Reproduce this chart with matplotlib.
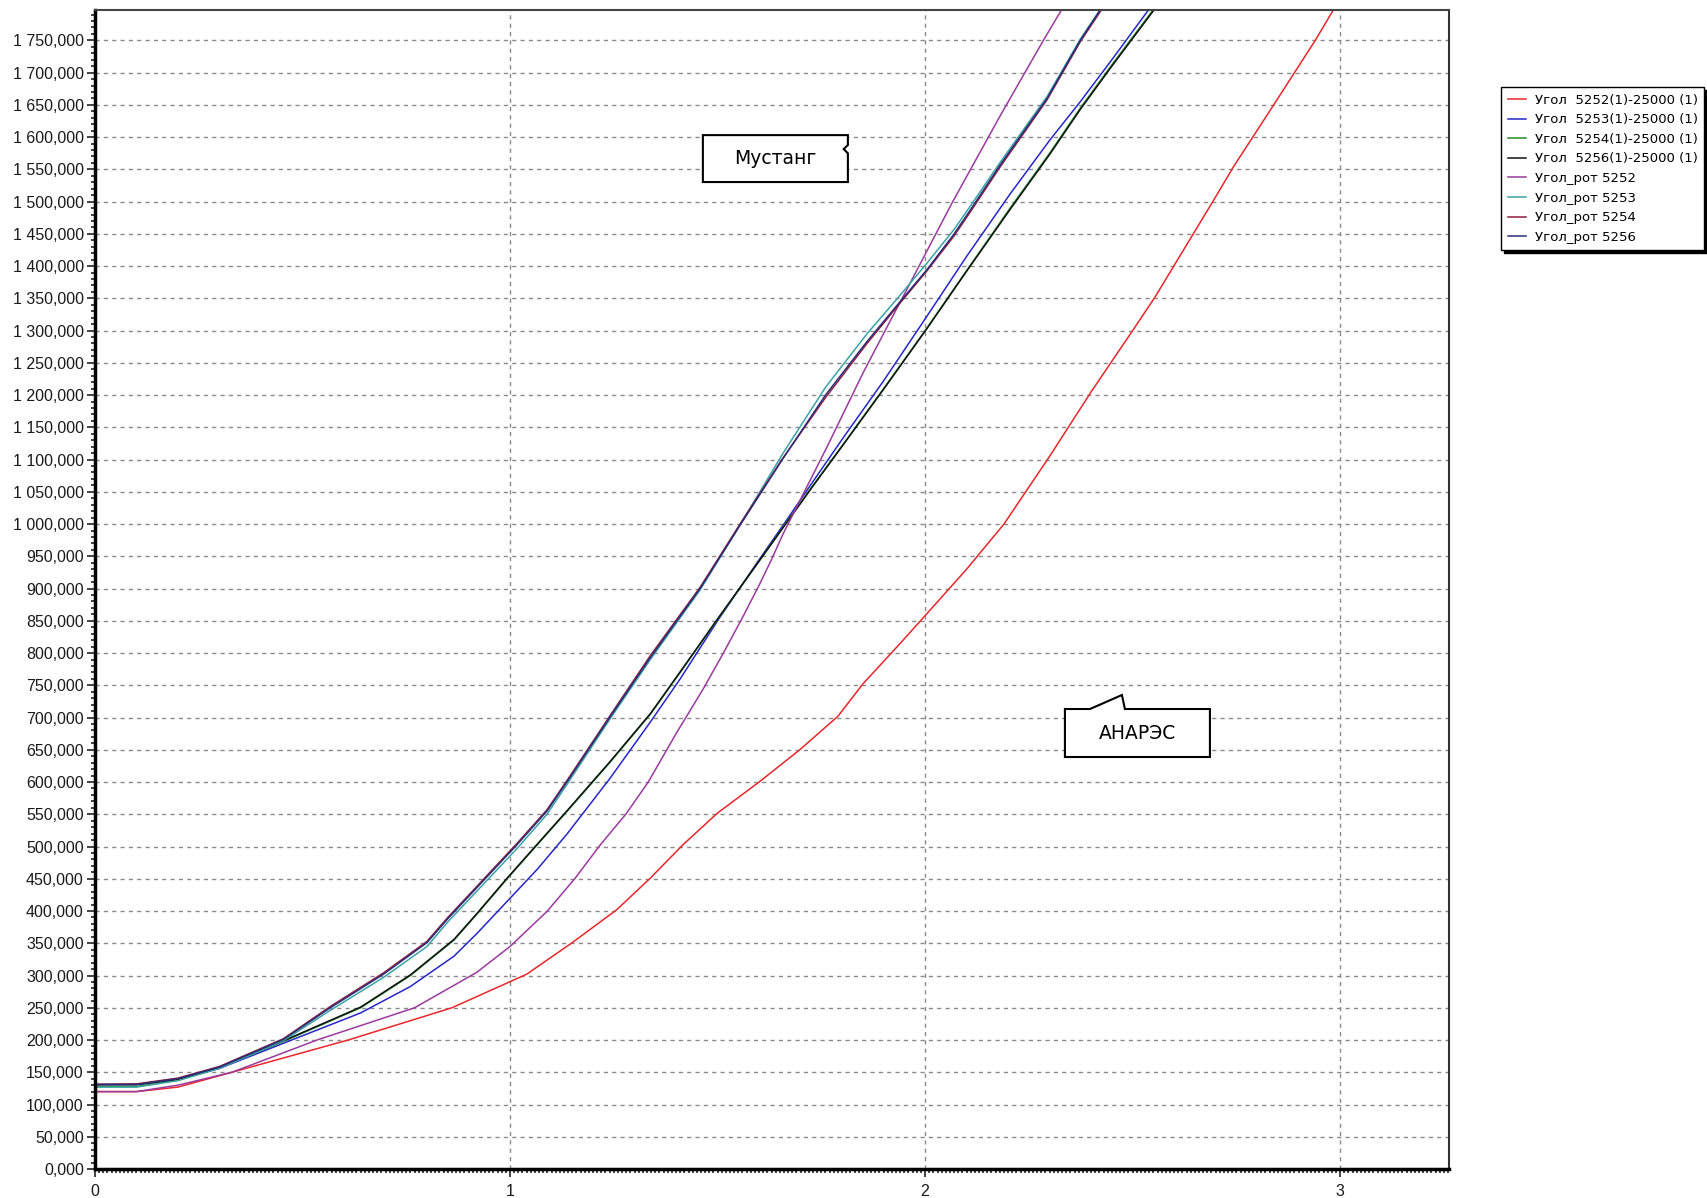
import matplotlib
matplotlib.use("Agg")
import matplotlib.pyplot as plt
from matplotlib.ticker import MultipleLocator, FuncFormatter
from matplotlib.patches import Polygon

# --- data (x, y in the chart's own units) ---
x_5252 = [0, 0.1, 0.2, 0.33, 0.61, 0.86, 1.04, 1.15, 1.257, 1.338, 1.417, 1.5, 1.6, 1.698,
          1.79, 1.85, 1.94, 2.0, 2.1, 2.19, 2.3, 2.4, 2.5, 2.554, 2.695, 2.743, 2.85, 2.94, 3.0]
y_5252 = [120, 120, 127, 150, 200, 250, 302, 351, 402, 451, 503, 552, 600, 650,
          702, 752, 815, 858, 930, 1000, 1105, 1205, 1300, 1352, 1502, 1554, 1660, 1750, 1815]

# Угол 5253/5254/5256 share one x grid
x_mid = [0, 0.1, 0.2, 0.3, 0.462, 0.64, 0.76, 0.865, 0.92, 0.993, 1.066, 1.138, 1.24, 1.338,
         1.41, 1.50, 1.595, 1.663, 1.73, 1.804, 1.90, 2.0, 2.1, 2.205, 2.30, 2.374, 2.45, 2.57, 2.65]
y_5253 = [131, 131, 139, 156, 197, 242, 283, 330, 365, 415, 465, 520, 605, 693,
          760, 850, 940, 1003, 1066, 1135, 1222, 1318, 1415, 1512, 1595, 1655, 1720, 1825, 1900]
y_5254 = [128, 128, 138, 157, 200, 250, 300, 355, 395, 450, 503, 555, 630, 705,
          770, 852, 938, 1000, 1060, 1125, 1210, 1300, 1393, 1490, 1575, 1645, 1712, 1815, 1885]
y_5256 = [131, 131, 139, 158, 201, 251, 301, 356, 396, 451, 504, 556, 631, 706,
          771, 853, 938, 999, 1059, 1124, 1209, 1299, 1392, 1488, 1573, 1643, 1710, 1813, 1883]

x_rot5252 = [0, 0.1, 0.2, 0.33, 0.535, 0.77, 0.92, 1.0, 1.09, 1.157, 1.218, 1.28, 1.333, 1.40,
             1.466, 1.514, 1.56, 1.60, 1.63, 1.658, 1.764, 1.851, 1.916, 1.957, 2.0, 2.065,
             2.18, 2.285, 2.345, 2.4]
y_rot5252 = [120, 120, 130, 150, 200, 250, 305, 345, 400, 451, 503, 551, 600, 675,
             745, 800, 855, 905, 945, 985, 1120, 1235, 1315, 1365, 1418, 1498,
             1632, 1750, 1815, 1870]

# Угол_рот 5253/5254/5256 share one x grid
x_up = [0, 0.1, 0.2, 0.3, 0.454, 0.567, 0.695, 0.80, 0.85, 1.017, 1.089, 1.14, 1.24, 1.338,
        1.458, 1.556, 1.656, 1.76, 1.86, 1.94, 2.005, 2.07, 2.11, 2.18, 2.294, 2.374, 2.44, 2.5]
y_rot5253 = [127, 127, 137, 156, 199, 246, 297, 345, 383, 497, 550, 599, 697, 790,
             898, 1001, 1108, 1212, 1295, 1355, 1405, 1457, 1494, 1560, 1663, 1752, 1815, 1880]
y_rot5254 = [131, 132, 141, 159, 202, 252, 304, 353, 390, 505, 557, 605, 702, 796,
             902, 1002, 1101, 1196, 1280, 1343, 1393, 1447, 1485, 1553, 1658, 1748, 1812, 1878]
y_rot5256 = [131, 131, 140, 158, 201, 250, 302, 351, 388, 503, 555, 603, 700, 793,
             900, 1000, 1100, 1200, 1283, 1345, 1395, 1450, 1488, 1556, 1660, 1750, 1815, 1880]

labels = ["Угол  5252(1)-25000 (1)", "Угол  5253(1)-25000 (1)",
          "Угол  5254(1)-25000 (1)", "Угол  5256(1)-25000 (1)",
          "Угол_рот 5252", "Угол_рот 5253", "Угол_рот 5254", "Угол_рот 5256"]
colors = ["#e8262b", "#2626c8", "#1f8f2a", "#111111",
          "#9a3a9e", "#3aa3a3", "#8e1f3e", "#2c2c78"]

series = [(x_5252, y_5252), (x_mid, y_5253), (x_mid, y_5254), (x_mid, y_5256),
          (x_rot5252, y_rot5252), (x_up, y_rot5253), (x_up, y_rot5254), (x_up, y_rot5256)]

fig = plt.figure(figsize=(17.08, 11.98), dpi=100)
ax = fig.add_axes([0.0556, 0.0242, 0.7927, 0.9674])

for (xs, ys), lab, c in zip(series, labels, colors):
    ax.plot(xs, ys, color=c, lw=1.1, label=lab)

ax.set_xlim(0, 3.262)
ax.set_ylim(0, 1797)

ax.xaxis.set_major_locator(MultipleLocator(1))
ax.xaxis.set_minor_locator(MultipleLocator(0.01))
ax.yaxis.set_major_locator(MultipleLocator(50))
ax.yaxis.set_minor_locator(MultipleLocator(10))


def ru_fmt(v, pos):
    return f"{v:,.3f}".replace(",", " ").replace(".", ",")


ax.yaxis.set_major_formatter(FuncFormatter(ru_fmt))
ax.xaxis.set_major_formatter(FuncFormatter(lambda v, p: f"{v:g}"))

for lab in ax.get_xticklabels() + ax.get_yticklabels():
    lab.set_fontfamily("Liberation Sans")
ax.tick_params(axis="both", which="major", labelsize=11.5, length=6, width=1.2,
               direction="out", color="#222222", labelcolor="#1a1a1a")
ax.tick_params(axis="y", which="major", pad=2)
ax.tick_params(axis="x", which="major", pad=5)
ax.tick_params(axis="both", which="minor", length=3, width=1.2, direction="out",
               color="#222222")

ax.grid(True, which="major", color="#8a8a8a", lw=1.0, linestyle=(0, (3, 3)))

ax.spines["left"].set_linewidth(2.5)
ax.spines["bottom"].set_linewidth(2.5)
ax.spines["left"].set_color("black")
ax.spines["bottom"].set_color("black")
ax.spines["top"].set_linewidth(1.5)
ax.spines["right"].set_linewidth(1.5)
ax.spines["top"].set_color("#444444")
ax.spines["right"].set_color("#333333")

# callout "Мустанг"
must = Polygon([(0.449, 0.8921), (0.5561, 0.8921), (0.5561, 0.8835), (0.5530, 0.8801),
                (0.5561, 0.8764), (0.5561, 0.8516), (0.449, 0.8516)],
               closed=True, transform=ax.transAxes, facecolor="white",
               edgecolor="black", lw=1.5, zorder=6)
ax.add_patch(must)
ax.text(0.5025, 0.872, "Мустанг", transform=ax.transAxes, ha="center", va="center",
        fontsize=13.5, zorder=7)

# callout "АНАРЭС"
anar = Polygon([(0.7164, 0.3555), (0.7164, 0.3969), (0.7349, 0.3969), (0.7585, 0.4090),
                (0.7607, 0.3969), (0.8235, 0.3969), (0.8235, 0.3555)],
               closed=True, transform=ax.transAxes, facecolor="white",
               edgecolor="black", lw=1.5, zorder=6)
ax.add_patch(anar)
ax.text(0.7700, 0.3762, "АНАРЭС", transform=ax.transAxes, ha="center", va="center",
        fontsize=13.5, zorder=7)

leg = ax.legend(loc="upper left", bbox_to_anchor=(0.8788, 0.9274),
                bbox_transform=fig.transFigure, fontsize=9.5, frameon=True,
                fancybox=False, edgecolor="black", framealpha=1,
                shadow={"color": "black", "alpha": 1}, borderaxespad=0,
                handlelength=1.4, handletextpad=0.66, labelspacing=0.5,
                borderpad=0.5)
leg.get_frame().set_linewidth(1.0)

fig.savefig("out.png", dpi=100)
